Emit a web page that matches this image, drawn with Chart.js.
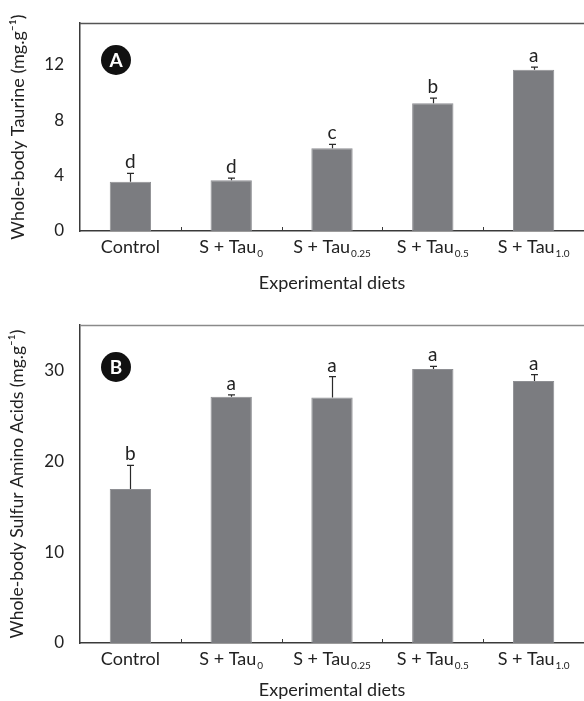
<!DOCTYPE html>
<html>
<head>
<meta charset="utf-8">
<script src="https://cdn.jsdelivr.net/npm/chart.js@4.4.1/dist/chart.umd.min.js"></script>
<style>
  body { margin: 0; background: #fff; width: 584px; height: 701px; overflow: hidden; }
  .box { position: absolute; left: 0; width: 584px; }
  #boxA { top: 0; height: 300px; }
  #boxB { top: 300px; height: 401px; }
</style>
</head>
<body>
<div class="box" id="boxA"><canvas id="chartA"></canvas></div>
<div class="box" id="boxB"><canvas id="chartB"></canvas></div>
<script>
// diets on the x axis (base text + subscript)
const diets = ['Control', 'S + Tau', 'S + Tau', 'S + Tau', 'S + Tau'];
const dietSubs = ['', '0', '0.25', '0.5', '1.0'];

// panel A: whole-body taurine
const taurine = [3.56, 3.66, 5.97, 9.22, 11.62];
const taurineErr = [0.6, 0.15, 0.28, 0.36, 0.2];
const taurineLetters = ['d', 'd', 'c', 'b', 'a'];
const taurineTicks = [0, 4, 8, 12];

// panel B: whole-body sulfur amino acids
const saa = [16.95, 27.1, 27.02, 30.15, 28.83];
const saaErr = [2.6, 0.2, 2.3, 0.3, 0.7];
const saaLetters = ['b', 'a', 'a', 'a', 'a'];
const saaTicks = [0, 10, 20, 30];

const FONT = 'Lato, "Open Sans", sans-serif';
const BAR = '#7b7c80';
const AXIS = '#3a3a3a';

const extras = {
  id: 'extras',
  afterDatasetsDraw(chart, args, opts) {
    const ctx = chart.ctx;
    const x = chart.scales.x, y = chart.scales.y;
    const area = chart.chartArea;
    const meta = chart.getDatasetMeta(0);
    ctx.save();

    // top frame line
    ctx.strokeStyle = opts.topColor;
    ctx.lineWidth = 1.5;
    ctx.beginPath();
    ctx.moveTo(area.left, area.top + 0.5);
    ctx.lineTo(area.right, area.top + 0.5);
    ctx.stroke();

    // small inner tick marks between categories
    ctx.strokeStyle = AXIS;
    ctx.lineWidth = 1;
    for (let i = 1; i < diets.length; i++) {
      const px = Math.round((x.getPixelForTick(i - 1) + x.getPixelForTick(i)) / 2) + 0.5;
      ctx.beginPath();
      ctx.moveTo(px, area.bottom);
      ctx.lineTo(px, area.bottom - 4);
      ctx.stroke();
    }

    // error bars + significance letters
    meta.data.forEach((bar, i) => {
      const v = opts.values[i];
      const top = y.getPixelForValue(v + opts.errors[i]);
      const cx = Math.round(bar.x) + 0.5;
      ctx.strokeStyle = '#2a2a2a';
      ctx.lineWidth = 1.2;
      ctx.beginPath();
      ctx.moveTo(cx, y.getPixelForValue(v));
      ctx.lineTo(cx, top);
      ctx.moveTo(cx - 3.5, top);
      ctx.lineTo(cx + 3.5, top);
      ctx.stroke();

      ctx.fillStyle = '#222';
      ctx.font = '19px ' + FONT;
      ctx.textAlign = 'center';
      ctx.textBaseline = 'alphabetic';
      ctx.fillText(opts.letters[i], bar.x, top - 5);
    });

    // x labels with subscripts
    diets.forEach((name, i) => {
      const cx = x.getPixelForTick(i);
      const by = area.bottom + 22;
      ctx.font = '18px ' + FONT;
      const w1 = ctx.measureText(name).width;
      ctx.font = '10px ' + FONT;
      const w2 = dietSubs[i] ? ctx.measureText(dietSubs[i]).width + 1 : 0;
      const sx = cx - (w1 + w2) / 2;
      ctx.fillStyle = '#222';
      ctx.textAlign = 'left';
      ctx.textBaseline = 'alphabetic';
      ctx.font = '18px ' + FONT;
      ctx.fillText(name, sx, by);
      if (dietSubs[i]) {
        ctx.font = '10px ' + FONT;
        ctx.fillText(dietSubs[i], sx + w1 + 1, by + 4);
      }
    });

    // panel badge
    const bx = area.left + 36, byc = area.top + opts.badgeDy;
    ctx.fillStyle = '#111';
    ctx.beginPath();
    ctx.arc(bx, byc, 15, 0, Math.PI * 2);
    ctx.fill();
    ctx.fillStyle = '#fff';
    ctx.font = 'bold 19px ' + FONT;
    ctx.textAlign = 'center';
    ctx.textBaseline = 'middle';
    ctx.fillText(opts.badge, bx, byc + 1);
    ctx.restore();
  }
};

function makeChart(id, values, errors, letters, ticks, max, yTitle, yTitleSize, padTop, xHeight, xTitlePad, badge, badgeDy, topColor) {
  return new Chart(document.getElementById(id), {
    type: 'bar',
    data: {
      labels: diets,
      datasets: [{
        data: values,
        backgroundColor: BAR,
        borderColor: '#8e8f93',
        borderWidth: 1,
        barPercentage: 0.41,
        categoryPercentage: 1
      }]
    },
    options: {
      responsive: true,
      maintainAspectRatio: false,
      animation: false,
      layout: { padding: { top: padTop, left: 0, right: 0, bottom: 0 } },
      plugins: {
        legend: { display: false },
        tooltip: { enabled: false },
        extras: { values, errors, letters, badge, badgeDy, topColor }
      },
      scales: {
        x: {
          grid: { display: false },
          border: { display: true, color: AXIS, width: 1.5 },
          ticks: { display: false },
          title: {
            display: true,
            text: 'Experimental diets',
            color: '#222',
            font: { family: FONT, size: 18 },
            padding: { top: 0, bottom: xTitlePad }
          },
          afterFit(scale) { scale.height = xHeight; }
        },
        y: {
          min: 0,
          max: max,
          afterBuildTicks(scale) { scale.ticks = ticks.map(v => ({ value: v })); },
          grid: { display: false },
          border: { display: true, color: AXIS, width: 1.5 },
          ticks: { color: '#222', padding: 8, font: { family: FONT, size: 17 } },
          title: {
            display: true,
            text: yTitle,
            color: '#222',
            font: { family: FONT, size: yTitleSize },
            padding: { top: 7, bottom: 0 }
          },
          afterFit(scale) { scale.width = 80; }
        }
      }
    },
    plugins: [extras]
  });
}

makeChart('chartA', taurine, taurineErr, taurineLetters, taurineTicks, 15,
  'Whole-body Taurine (mg.g⁻¹)', 18, 23, 69, 6, 'A', 37, '#555');
makeChart('chartB', saa, saaErr, saaLetters, saaTicks, 35,
  'Whole-body Sulfur Amino Acids (mg.g⁻¹)', 17.5, 25, 58, 0, 'B', 42, '#8a8a8a');
</script>
</body>
</html>
